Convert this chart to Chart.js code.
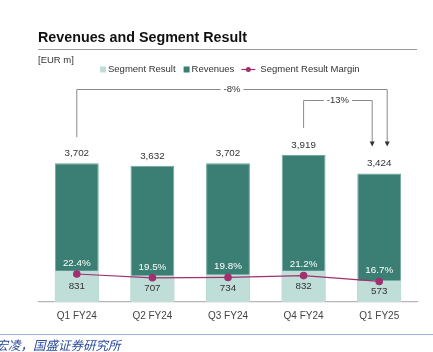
<!DOCTYPE html>
<html>
<head>
<meta charset="utf-8">
<script src="https://cdn.jsdelivr.net/npm/chart.js@4/dist/chart.umd.min.js"></script>
<style>
  html, body { margin: 0; padding: 0; background: #fff; }
  #wrap { width: 433px; height: 352px; }
</style>
</head>
<body>
<div id="wrap"><canvas id="chart" width="433" height="352"></canvas></div>
<script>
// data
const categories = ['Q1 FY24', 'Q2 FY24', 'Q3 FY24', 'Q4 FY24', 'Q1 FY25'];
const revenues = [3702, 3632, 3702, 3919, 3424];
const segmentResult = [831, 707, 734, 832, 573];
const segmentMargin = [22.4, 19.5, 19.8, 21.2, 16.7];
const changeLabels = ['-8%', '-13%'];

const FONT = "'Liberation Sans', Arial, sans-serif";
const C_REV = '#3b7f74';
const C_SEG = '#c0ded8';
const C_MARGIN = '#a0306f';
const fmt = v => v.toLocaleString('en-US');

function seg(ctx, x1, y1, x2, y2) {
    ctx.beginPath();
    ctx.moveTo(x1, y1);
    ctx.lineTo(x2, y2);
    ctx.stroke();
}

function arrowHead(ctx, x, tipY) {
    ctx.beginPath();
    ctx.moveTo(x - 2.5, tipY - 5);
    ctx.lineTo(x + 2.5, tipY - 5);
    ctx.lineTo(x, tipY);
    ctx.closePath();
    ctx.fill();
}

// title, legend, labels, brackets and source line
const overlay = {
    id: 'overlay',
    afterDraw(chart) {
        const ctx = chart.ctx;
        const segBars = chart.getDatasetMeta(0).data;
        const revBars = chart.getDatasetMeta(1).data;
        const pts = chart.getDatasetMeta(2).data;
        ctx.save();
        ctx.textBaseline = 'middle';

        // title + rule
        ctx.fillStyle = '#111';
        ctx.font = 'bold 14.3px ' + FONT;
        ctx.textAlign = 'left';
        ctx.fillText('Revenues and Segment Result', 38, 38);
        ctx.strokeStyle = '#9a9a9a';
        ctx.lineWidth = 1.2;
        seg(ctx, 38, 49.5, 417, 49.5);

        ctx.fillStyle = '#333';
        ctx.font = '9.5px ' + FONT;
        ctx.fillText('[EUR m]', 38, 60);

        // legend
        let x = 100;
        const ly = 69.5;
        ctx.fillStyle = C_SEG;
        ctx.fillRect(x, ly - 3, 6, 6);
        x += 8;
        ctx.fillStyle = '#333';
        ctx.fillText('Segment Result', x, ly);
        x += ctx.measureText('Segment Result').width + 8;
        ctx.fillStyle = C_REV;
        ctx.fillRect(x, ly - 3, 6, 6);
        x += 8;
        ctx.fillStyle = '#333';
        ctx.fillText('Revenues', x, ly);
        x += ctx.measureText('Revenues').width + 7;
        ctx.strokeStyle = C_MARGIN;
        ctx.lineWidth = 1.2;
        seg(ctx, x, ly, x + 14, ly);
        ctx.fillStyle = C_MARGIN;
        ctx.beginPath();
        ctx.arc(x + 7, ly, 2.5, 0, Math.PI * 2);
        ctx.fill();
        x += 19;
        ctx.fillStyle = '#333';
        ctx.fillText('Segment Result Margin', x, ly);

        // value labels
        ctx.textAlign = 'center';
        ctx.font = '9.8px ' + FONT;
        revBars.forEach((b, i) => {
            ctx.fillStyle = '#333';
            ctx.fillText(fmt(revenues[i]), b.x, b.y - 10);
        });
        segBars.forEach((b, i) => {
            ctx.fillStyle = '#333';
            ctx.fillText(fmt(segmentResult[i]), b.x, (b.y + b.base) / 2);
        });
        pts.forEach((p, i) => {
            ctx.fillStyle = '#fff';
            ctx.fillText(segmentMargin[i].toFixed(1) + '%', p.x, p.y - 11);
        });

        // change brackets
        const first = revBars[0], q4 = revBars[3], last = revBars[4];
        const yA = 89.5, yB = 100.5;
        const xA2 = last.x + 8, xB2 = last.x - 7;
        ctx.strokeStyle = '#8a8a8a';
        ctx.lineWidth = 1;
        ctx.beginPath();
        ctx.moveTo(first.x, first.y - 26);
        ctx.lineTo(first.x, yA);
        ctx.lineTo(xA2, yA);
        ctx.lineTo(xA2, last.y - 31);
        ctx.stroke();
        ctx.beginPath();
        ctx.moveTo(q4.x, q4.y - 27);
        ctx.lineTo(q4.x, yB);
        ctx.lineTo(xB2, yB);
        ctx.lineTo(xB2, last.y - 31);
        ctx.stroke();
        ctx.fillStyle = '#333';
        arrowHead(ctx, xA2, last.y - 27);
        arrowHead(ctx, xB2, last.y - 27);

        ctx.font = '9.5px ' + FONT;
        [[changeLabels[0], (first.x + xA2) / 2, yA], [changeLabels[1], (q4.x + xB2) / 2, yB]].forEach(([t, cx, cy]) => {
            const w = ctx.measureText(t).width + 6;
            ctx.fillStyle = '#fff';
            ctx.fillRect(cx - w / 2, cy - 5, w, 10);
            ctx.fillStyle = '#333';
            ctx.fillText(t, cx, cy);
        });

        // source line
        ctx.strokeStyle = '#9fb2d8';
        ctx.lineWidth = 1;
        seg(ctx, 0, 334.5, 433, 334.5);
        ctx.fillStyle = '#2b4a9c';
        ctx.font = "italic 12.5px 'Noto Sans CJK SC', sans-serif";
        ctx.textAlign = 'left';
        ctx.fillText('宏凌，国盛证券研究所', -4.5, 345);

        ctx.restore();
    }
};

new Chart(document.getElementById('chart'), {
    data: {
        labels: categories,
        datasets: [
            { type: 'bar', label: 'Segment Result', data: segmentResult, backgroundColor: C_SEG, grouped: false, order: 1, yAxisID: 'y' },
            { type: 'bar', label: 'Revenues', data: revenues, backgroundColor: C_REV, borderColor: '#6fa89d', borderWidth: { top: 1, left: 1, right: 1, bottom: 0 }, grouped: false, order: 2, yAxisID: 'y' },
            { type: 'line', label: 'Segment Result Margin', data: segmentMargin, borderColor: C_MARGIN, backgroundColor: C_MARGIN, borderWidth: 1.2, pointRadius: 3.2, tension: 0, order: 0, yAxisID: 'y2' }
        ]
    },
    options: {
        responsive: false,
        animation: false,
        layout: { padding: { top: 77, left: 39, right: 16, bottom: 22 } },
        datasets: { bar: { categoryPercentage: 1, barPercentage: 0.58 } },
        plugins: { legend: { display: false }, tooltip: { enabled: false } },
        scales: {
            x: {
                grid: { display: false, drawTicks: false },
                border: { display: true, color: '#b5b5b5', width: 1.2 },
                ticks: { padding: 8, color: '#444', font: { family: "'Liberation Sans Narrow', 'Liberation Sans', Arial", size: 10 } }
            },
            y: { display: false, min: 0, max: 6000 },
            y2: { display: false, min: 1, max: 173 }
        }
    },
    plugins: [overlay]
});
</script>
</body>
</html>
